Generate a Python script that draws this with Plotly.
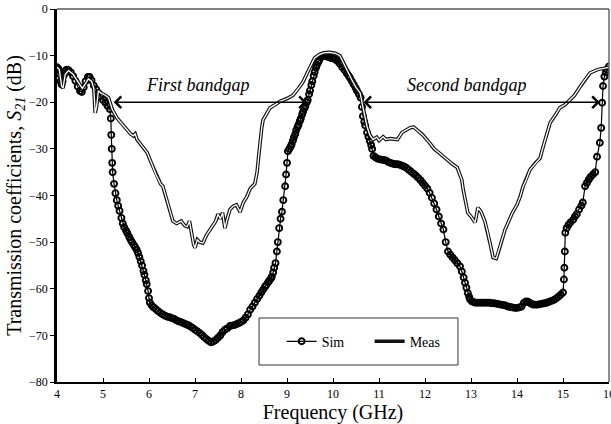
import plotly.graph_objects as go

# Simulated S21 (GHz, dB)
sim_freq = [
    4.0, 4.03, 4.06, 4.08, 4.1, 4.12, 4.15, 4.18, 4.21, 4.25,
    4.3, 4.35, 4.4, 4.45, 4.5, 4.54, 4.58, 4.62, 4.67, 4.71,
    4.75, 4.8, 4.85, 4.9, 4.95, 5.0, 5.05, 5.1, 5.15, 5.17,
    5.18, 5.19, 5.2, 5.21, 5.24, 5.27, 5.3, 5.33, 5.36, 5.4,
    5.43, 5.46, 5.5, 5.53, 5.57, 5.6, 5.63, 5.67, 5.7, 5.73,
    5.76, 5.79, 5.82, 5.85, 5.88, 5.9, 5.93, 5.95, 5.98, 6.0,
    6.02, 6.06, 6.1, 6.15, 6.2, 6.25, 6.3, 6.35, 6.4, 6.45,
    6.5, 6.55, 6.6, 6.65, 6.7, 6.75, 6.8, 6.85, 6.9, 6.95,
    7.0, 7.05, 7.1, 7.15, 7.2, 7.25, 7.3, 7.35, 7.4, 7.45,
    7.5, 7.55, 7.6, 7.65, 7.7, 7.76, 7.8, 7.85, 7.9, 7.95,
    8.0, 8.05, 8.1, 8.15, 8.2, 8.25, 8.3, 8.35, 8.4, 8.44,
    8.48, 8.52, 8.55, 8.59, 8.62, 8.65, 8.67, 8.7, 8.72, 8.75,
    8.78, 8.8, 8.83, 8.86, 8.89, 8.92, 8.96, 8.98, 9.0, 9.02,
    9.05, 9.08, 9.1, 9.13, 9.15, 9.18, 9.2, 9.23, 9.25, 9.28,
    9.3, 9.33, 9.35, 9.38, 9.4, 9.43, 9.45, 9.48, 9.5, 9.53,
    9.55, 9.58, 9.6, 9.63, 9.65, 9.68, 9.7, 9.74, 9.78, 9.82,
    9.86, 9.9, 9.95, 10.0, 10.05, 10.1, 10.15, 10.2, 10.25, 10.3,
    10.34, 10.37, 10.41, 10.45, 10.49, 10.52, 10.56, 10.6, 10.63, 10.65,
    10.68, 10.7, 10.74, 10.77, 10.8, 10.83, 10.85, 10.88, 10.92, 10.95,
    11.0, 11.05, 11.1, 11.15, 11.2, 11.25, 11.3, 11.35, 11.4, 11.45,
    11.5, 11.55, 11.6, 11.65, 11.7, 11.75, 11.8, 11.85, 11.9, 11.95,
    12.0, 12.05, 12.1, 12.15, 12.2, 12.25, 12.3, 12.35, 12.4, 12.45,
    12.5, 12.55, 12.6, 12.65, 12.7, 12.76, 12.8, 12.84, 12.87, 12.9,
    12.93, 12.96, 12.98, 13.02, 13.06, 13.1, 13.15, 13.2, 13.25, 13.3,
    13.35, 13.4, 13.45, 13.5, 13.55, 13.6, 13.65, 13.7, 13.75, 13.8,
    13.85, 13.9, 13.95, 14.0, 14.05, 14.1, 14.15, 14.2, 14.24, 14.27,
    14.31, 14.35, 14.4, 14.45, 14.5, 14.55, 14.6, 14.65, 14.7, 14.75,
    14.8, 14.85, 14.9, 14.95, 15.0, 15.02, 15.03, 15.04, 15.05, 15.08,
    15.12, 15.16, 15.22, 15.26, 15.3, 15.35, 15.4, 15.43, 15.48, 15.52,
    15.56, 15.6, 15.65, 15.7, 15.74, 15.8, 15.83, 15.85, 15.87, 15.9,
    15.93, 15.96, 16.0,
]
sim_s21 = [
    -12.5, -12.8, -14.0, -15.5, -16.2, -15.5, -14.2, -13.3, -13.0, -13.1,
    -13.6, -14.4, -15.4, -16.6, -17.6, -17.8, -16.8, -15.5, -14.6, -14.6,
    -15.3, -16.4, -17.2, -18.0, -18.7, -19.5, -20.1, -20.8, -21.5, -23.5,
    -27.0, -30.0, -33.0, -35.0, -37.5, -39.5, -41.0, -42.2, -43.3, -44.8,
    -46.0, -46.8, -47.5, -48.1, -48.9, -49.5, -50.0, -50.6, -51.1, -51.6,
    -52.3, -53.2, -54.1, -55.0, -56.2, -57.0, -58.2, -59.0, -60.5, -62.0,
    -63.0, -63.6, -64.0, -64.4, -64.8, -65.2, -65.5, -65.8, -66.0, -66.1,
    -66.3, -66.5, -66.8, -67.0, -67.2, -67.4, -67.6, -67.8, -68.1, -68.4,
    -68.8, -69.1, -69.5, -69.9, -70.4, -70.8, -71.2, -71.5, -71.3, -71.0,
    -70.5, -70.0, -69.3, -68.8, -68.5, -68.0, -67.9, -67.8, -67.6, -67.4,
    -67.1, -66.8, -66.2, -65.5, -64.5, -63.8, -63.0, -62.2, -61.5, -60.8,
    -60.2, -59.6, -59.2, -58.6, -58.2, -57.8, -57.4, -56.5, -55.5, -54.5,
    -52.0, -50.0, -47.0, -45.0, -43.5, -41.0, -38.0, -35.5, -33.0, -30.5,
    -30.0, -29.5, -29.0, -28.2, -27.5, -26.8, -26.0, -25.3, -24.8, -24.0,
    -23.5, -22.6, -22.0, -21.3, -20.8, -20.0, -19.5, -18.3, -17.5, -16.3,
    -15.5, -14.3, -13.5, -12.6, -12.0, -11.4, -11.0, -10.4, -10.0, -10.0,
    -10.2, -10.3, -10.5, -10.6, -10.8, -11.2, -11.8, -12.5, -13.1, -13.8,
    -14.3, -14.8, -15.5, -16.2, -16.9, -17.5, -18.2, -19.0, -21.0, -23.0,
    -24.2, -25.0, -26.5, -27.4, -28.3, -29.2, -30.0, -31.5, -31.8, -32.0,
    -32.2, -32.3, -32.4, -32.5, -32.8, -33.0, -33.2, -33.3, -33.3, -33.4,
    -33.6, -33.8, -34.1, -34.5, -34.9, -35.3, -35.7, -36.2, -36.7, -37.3,
    -37.9, -38.5, -39.4, -40.5, -41.7, -43.0, -44.5, -46.0, -47.3, -50.0,
    -52.0, -52.7, -53.3, -53.9, -54.5, -55.2, -56.3, -57.6, -58.7, -59.8,
    -60.9, -61.7, -62.3, -62.7, -62.9, -63.0, -63.0, -63.0, -63.0, -63.0,
    -63.0, -63.0, -63.1, -63.1, -63.2, -63.3, -63.4, -63.5, -63.6, -63.8,
    -63.9, -64.0, -64.1, -64.1, -64.0, -63.8, -63.0, -62.7, -62.8, -63.0,
    -63.2, -63.4, -63.4, -63.4, -63.3, -63.2, -63.1, -63.0, -62.8, -62.6,
    -62.4, -62.1, -61.7, -61.3, -60.8, -58.0, -55.5, -52.0, -48.0, -47.0,
    -46.3, -45.8, -45.2, -44.5, -44.0, -43.0, -42.2, -41.5, -38.0, -37.3,
    -36.6, -36.0, -35.5, -35.0, -31.7, -28.7, -25.5, -20.1, -16.5, -14.5,
    -13.6, -13.0, -12.3,
]

# Measured S21 (GHz, dB)
meas_freq = [
    4.0, 4.05, 4.1, 4.13, 4.18, 4.25, 4.35, 4.45, 4.55, 4.62,
    4.68, 4.75, 4.8, 4.83, 4.86, 4.9, 4.95, 5.05, 5.12, 5.2,
    5.3, 5.4, 5.52, 5.6, 5.66, 5.7, 5.74, 5.85, 5.96, 6.05,
    6.15, 6.25, 6.3, 6.39, 6.45, 6.52, 6.6, 6.7, 6.78, 6.83,
    6.88, 6.93, 6.97, 7.0, 7.05, 7.1, 7.17, 7.25, 7.32, 7.39,
    7.45, 7.5, 7.55, 7.6, 7.65, 7.7, 7.76, 7.83, 7.9, 7.98,
    8.05, 8.13, 8.2, 8.3, 8.35, 8.38, 8.41, 8.45, 8.48, 8.55,
    8.63, 8.75, 8.85, 9.0, 9.13, 9.25, 9.35, 9.45, 9.5, 9.6,
    9.7, 9.8, 9.93, 10.05, 10.15, 10.25, 10.3, 10.4, 10.5, 10.59,
    10.65, 10.7, 10.74, 10.8, 10.87, 10.95, 11.0, 11.09, 11.15, 11.25,
    11.4, 11.5, 11.58, 11.67, 11.75, 11.83, 11.95, 12.1, 12.2, 12.3,
    12.4, 12.5, 12.6, 12.7, 12.8, 12.83, 12.88, 12.93, 13.0, 13.09,
    13.15, 13.22, 13.3, 13.35, 13.42, 13.48, 13.55, 13.59, 13.65, 13.74,
    13.82, 13.9, 14.0, 14.07, 14.13, 14.2, 14.28, 14.4, 14.5, 14.57,
    14.65, 14.72, 14.85, 14.93, 15.05, 15.15, 15.25, 15.37, 15.45, 15.59,
    15.75, 15.91, 16.0,
]
meas_s21 = [
    -12.5, -13.0, -16.5, -17.0, -14.0, -13.2, -14.0, -15.5, -17.0, -16.0,
    -15.0, -15.5, -17.0, -22.3, -21.0, -17.5, -18.0, -18.5, -19.0, -21.5,
    -23.3, -24.5, -26.0, -26.8, -27.2, -26.8, -28.0, -29.5, -30.8, -33.0,
    -35.5, -37.5, -38.0, -41.0, -43.0, -45.5, -46.0, -45.5, -46.5, -46.7,
    -45.5, -48.8, -50.5, -51.2, -49.5, -50.0, -50.2, -48.5, -47.5, -46.6,
    -45.5, -44.0, -45.0, -43.7, -47.0, -45.0, -43.0, -42.3, -42.0, -43.5,
    -41.5, -40.2, -38.5, -37.5, -35.0, -32.0, -28.5, -25.5, -23.8, -22.5,
    -21.2, -20.5, -19.8, -19.2, -18.5, -17.0, -15.6, -13.5, -12.4, -10.5,
    -9.8, -9.4, -9.3, -9.5, -10.0, -12.0, -13.2, -15.0, -16.8, -18.0,
    -21.0, -23.5, -25.2, -27.0, -28.0, -27.5, -28.2, -27.4, -28.0, -27.8,
    -28.0, -26.5, -26.0, -25.5, -25.3, -25.9, -27.0, -28.7, -30.0, -30.8,
    -31.7, -32.5, -33.3, -34.0, -36.6, -38.7, -41.5, -43.7, -44.5, -45.8,
    -42.6, -43.5, -45.5, -47.3, -50.5, -53.3, -53.5, -52.3, -50.0, -47.3,
    -45.5, -43.7, -42.0, -40.2, -38.1, -36.6, -34.5, -33.0, -32.0, -29.5,
    -26.5, -24.4, -22.5, -21.2, -20.5, -19.5, -18.5, -16.7, -15.5, -13.7,
    -13.0, -12.7, -12.5,
]
assert len(sim_freq) == len(sim_s21) and len(meas_freq) == len(meas_s21)

x_ticks = list(range(4, 17))
y_ticks = list(range(-80, 1, 10))

# Bandgap spans marked with double-headed arrows
gap_names = ["First bandgap", "Second bandgap"]
gap_start = [5.2, 10.63]
gap_end = [9.43, 15.8]
gap_label_x = [7.07, 12.9]
gap_level = -20
label_level = -16.4

SERIF = "Liberation Serif, Times New Roman, serif"
INK = "black"

fig = go.Figure()

fig.add_trace(go.Scatter(
    x=sim_freq, y=sim_s21, name="Sim", mode="lines+markers",
    line=dict(color=INK, width=1.2),
    marker=dict(symbol="circle-open", size=6, color=INK, line=dict(width=1.9, color=INK)),
))
# Measured curve drawn as a hollow double line: dark outline with a white core
fig.add_trace(go.Scatter(
    x=meas_freq, y=meas_s21, name="Meas", mode="lines",
    line=dict(color="#111111", width=3.6),
))
fig.add_trace(go.Scatter(
    x=meas_freq, y=meas_s21, name="Meas", mode="lines", showlegend=False,
    line=dict(color="white", width=1.3),
))

for name, x0, x1, xc in zip(gap_names, gap_start, gap_end, gap_label_x):
    fig.add_annotation(
        x=x1, y=gap_level, ax=x0, ay=gap_level, xref="x", yref="y", axref="x", ayref="y",
        text="", showarrow=True, arrowside="end+start", arrowhead=4, startarrowhead=4,
        arrowsize=1.4, startarrowsize=1.4, arrowwidth=1.6, arrowcolor=INK,
        standoff=0, startstandoff=0,
    )
    fig.add_annotation(
        x=xc, y=label_level, xref="x", yref="y", text=f"<i>{name}</i>", showarrow=False,
        font=dict(family=SERIF, size=18, color=INK),
    )

# Legend frame
fig.add_shape(type="rect", xref="paper", yref="paper", x0=0.366, x1=0.7264, y0=0.0456, y1=0.1716,
              line=dict(color="#333333", width=1), fillcolor="white", layer="above")
# Top and right frame lines
fig.add_shape(type="line", xref="paper", yref="paper", x0=0, x1=1, y0=1, y1=1,
              line=dict(color=INK, width=1))
fig.add_shape(type="line", xref="paper", yref="paper", x0=1, x1=1, y0=0, y1=1,
              line=dict(color="#666666", width=1.5))

fig.update_layout(
    width=611, height=424,
    margin=dict(l=57, r=2, t=9, b=42, autoexpand=False),
    paper_bgcolor="white", plot_bgcolor="white",
    font=dict(family=SERIF, color=INK),
    showlegend=True,
    legend=dict(orientation="h", x=0.407, y=0.108, xanchor="left", yanchor="middle",
                bgcolor="rgba(0,0,0,0)", borderwidth=0,
                font=dict(family=SERIF, size=14, color=INK), entrywidth=43),
    xaxis=dict(range=[4, 16], tickvals=x_ticks, ticks="inside", ticklen=4, tickwidth=1,
               tickcolor=INK, showline=True, linewidth=2, linecolor=INK, showgrid=False,
               zeroline=False, ticklabeloverflow="allow", automargin=False,
               tickfont=dict(family=SERIF, size=12, color=INK),
               title=dict(text="Frequency (GHz)", font=dict(family=SERIF, size=20, color=INK),
                          standoff=4)),
    yaxis=dict(range=[-80, 0], tickvals=y_ticks, ticks="outside", ticklen=4, tickwidth=1,
               tickcolor=INK, showline=True, linewidth=2.5, linecolor=INK, showgrid=False,
               zeroline=False, automargin=False,
               tickfont=dict(family=SERIF, size=12, color=INK),
               title=dict(text="Transmission coefficients, <i>S</i><sub><i>21</i></sub> (dB)",
                          font=dict(family=SERIF, size=20, color=INK), standoff=3)),
)

fig.write_html("out.html")
